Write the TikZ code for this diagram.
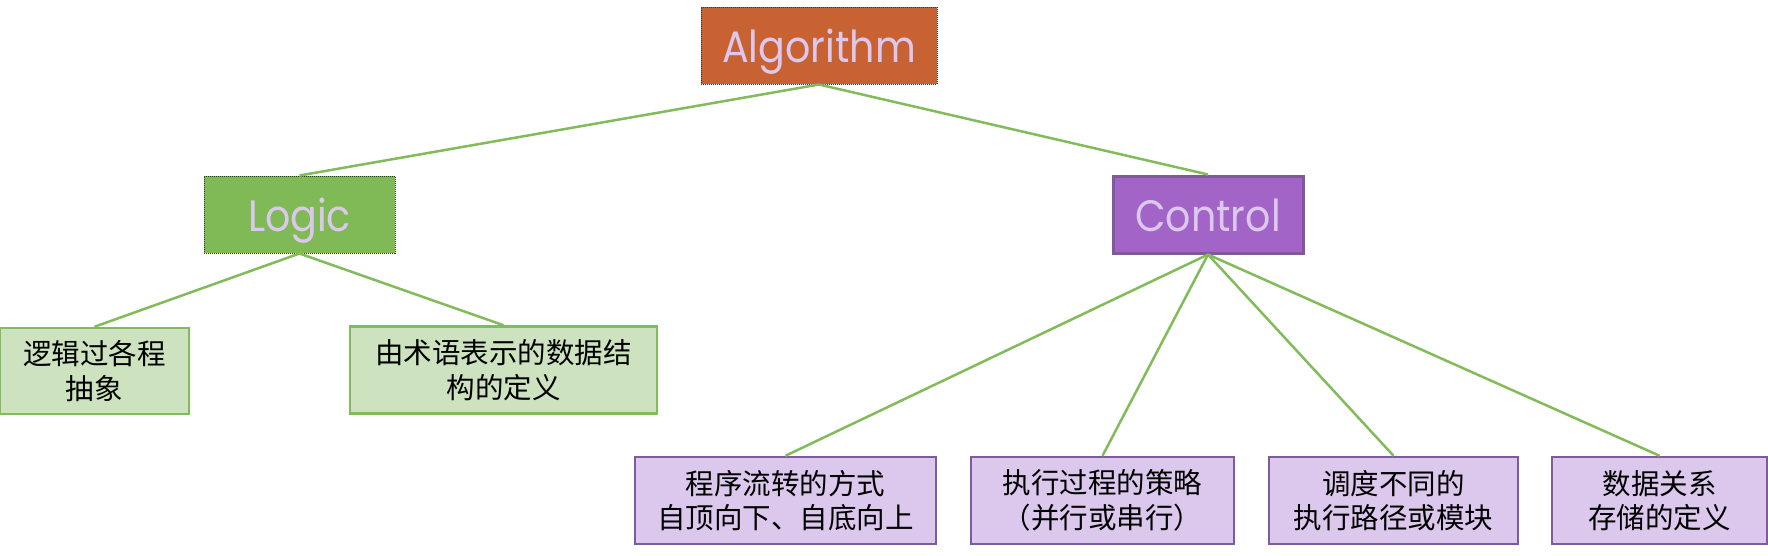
\documentclass[tikz,border=0pt]{standalone}
\usepackage{fontspec}
\setmainfont{Poppins}
\newfontfamily\titlefont[FakeStretch=0.9]{Poppins}
\newfontfamily\cjk{Noto Sans CJK SC}
\definecolor{algfill}{HTML}{C86232}
\definecolor{logfill}{HTML}{7FBA56}
\definecolor{ctlfill}{HTML}{A364C8}
\definecolor{ctlline}{HTML}{7F599B}
\definecolor{edgecol}{HTML}{82BB5A}
\definecolor{gchild}{HTML}{CDE2BE}
\definecolor{pchild}{HTML}{DBC8EC}
\definecolor{pline}{HTML}{7E5C9B}
\definecolor{lavtext}{HTML}{DCC8EC}
\begin{document}
\begin{tikzpicture}[x=1pt,y=-1pt,
  topbox/.style={rectangle, inner sep=0pt, minimum height=77pt, text=lavtext,
    text height=34.4pt, text depth=0pt,
    font=\titlefont\fontsize{44}{50}\selectfont},
  dotbox/.style={topbox, draw=black!80, line width=1pt, densely dotted},
  gbox/.style={rectangle, inner sep=0pt, fill=gchild, draw=edgecol, line width=2.5pt,
    align=center, text=black, font=\cjk\fontsize{28.5}{34.5}\selectfont},
  pbox/.style={rectangle, inner sep=0pt, fill=pchild, draw=pline, line width=2.5pt,
    align=center, text=black, font=\cjk\fontsize{28.5}{34.5}\selectfont},
  link/.style={draw=edgecol, line width=2.5pt}]
\useasboundingbox (0,0) rectangle (1768,555);
% top
\node[dotbox, fill=algfill, minimum width=236pt] (alg) at (819,45.5) {Algorithm};
\node[dotbox, fill=logfill, minimum width=191pt] (logic) at (299.5,214.5) {Logic};
\node[topbox, fill=ctlfill, draw=ctlline, line width=3pt, minimum width=190pt] (ctl) at (1208,214.5) {Control};
% children
\node[gbox, minimum width=189pt, minimum height=86pt] (l1) at (94.5,371) {逻辑过各程\\抽象};
\node[gbox, minimum width=307pt, minimum height=87pt] (l2) at (503.5,370) {由术语表示的数据结\\构的定义};
\node[pbox, minimum width=301pt, minimum height=87pt] (c1) at (785.5,500.5) {程序流转的方式\\自顶向下、自底向上};
\node[pbox, minimum width=263pt, minimum height=87pt] (c2) at (1102.5,500.5) {执行过程的策略\\（并行或串行）};
\node[pbox, minimum width=249pt, minimum height=87pt] (c3) at (1393.5,500.5) {调度不同的\\执行路径或模块};
\node[pbox, minimum width=215pt, minimum height=87pt] (c4) at (1659.5,500.5) {数据关系\\存储的定义};
% connectors
\path[link] (alg.south) -- (logic.north);
\path[link] (alg.south) -- (ctl.north);
\path[link] (logic.south) -- (l1.north);
\path[link] (logic.south) -- (l2.north);
\path[link] (ctl.south) -- (c1.north);
\path[link] (ctl.south) -- (c2.north);
\path[link] (ctl.south) -- (c3.north);
\path[link] (ctl.south) -- (c4.north);
\end{tikzpicture}
\end{document}
